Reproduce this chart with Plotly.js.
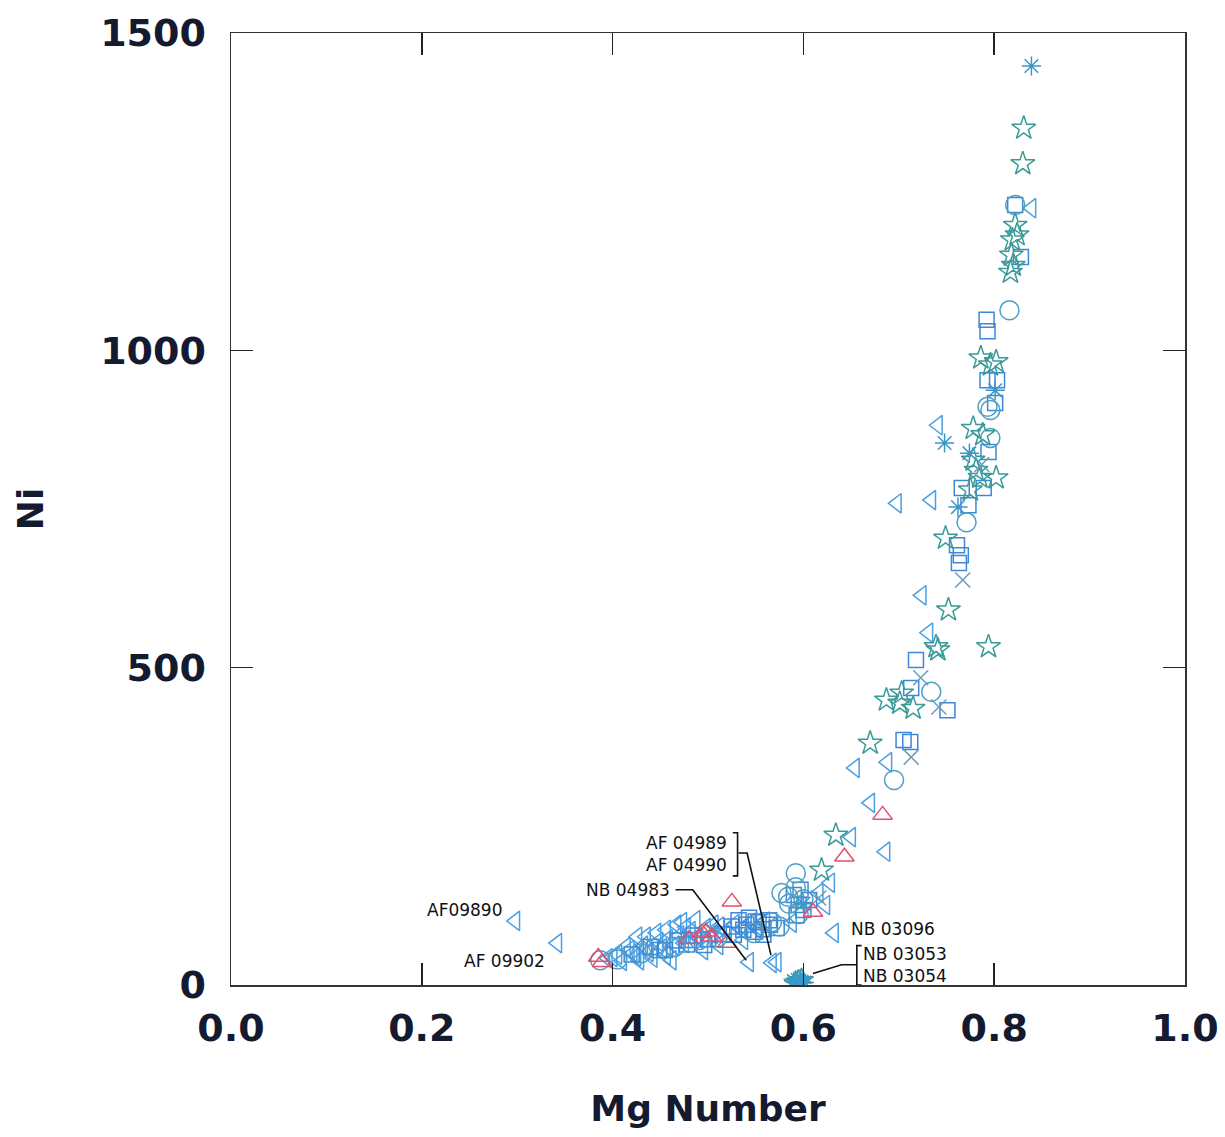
<!DOCTYPE html>
<html>
<head>
<meta charset="utf-8">
<script src="https://cdn.plot.ly/plotly-3.0.1.min.js"></script>
<style>html,body{margin:0;padding:0;background:#fff;}#chart{width:1225px;height:1137px;}</style>
</head>
<body>
<div id="chart"></div>
<script>
// ---- data (Mg Number, Ni) ----
const triX = [0.839,0.741,0.698,0.734,0.724,0.731,0.654,0.688,0.670,0.650,0.686,0.628,0.616,0.623,0.588,0.632,0.543,0.567,0.572,0.298,0.342,
  0.400,0.414,0.435,0.446,0.456,0.467,0.473,0.477,0.442,0.421,0.456,0.462,0.487,0.428,0.495,0.511,0.537,0.553,0.506,0.426,
  0.395,0.405,0.410,0.418,0.425,0.432,0.438,0.448,0.452,0.458,0.465,0.470,0.475,0.482,0.490,0.498,0.505,0.512,0.520,0.528,0.535,0.545,0.552,0.560];
const triY = [1224,882,759,764,614,555,342,351,287,233,210,161,145,126,98,82,36,35,36,101,66,
  44,60,76,82,87,95,99,91,43,50,47,39,102,39,55,63,71,87,95,76,
  42,48,38,55,45,62,52,68,58,72,62,78,66,85,74,90,80,92,85,96,88,98,92,100];

const sqX = [0.822,0.828,0.792,0.793,0.793,0.803,0.801,0.794,0.766,0.789,0.773,0.761,0.765,0.763,0.718,0.713,0.751,0.705,0.712,
  0.590,0.595,0.600,0.593,0.606,0.597,0.532,0.543,0.553,0.564,0.537,0.548,0.558,0.527,0.480,0.496,0.449,
  0.420,0.440,0.455,0.468,0.478,0.485,0.500,0.515,0.525,0.540,0.550,0.558,0.565,0.572];
const sqY = [1229,1147,1048,1030,953,953,917,840,783,783,756,693,677,665,512,468,433,386,383,
  142,126,118,110,134,150,102,106,99,102,87,84,79,79,71,63,55,
  48,60,55,70,64,78,72,80,92,95,100,88,95,90];

const cirX = [0.822,0.816,0.793,0.796,0.796,0.771,0.734,0.695,0.592,0.577,0.584,0.592,0.567,0.387,0.444,0.491,
  0.405,0.430,0.465,0.510,0.548,0.575,0.585,0.600,0.595];
const cirY = [1229,1063,911,906,862,729,462,323,176,145,139,154,99,39,58,71,
  40,50,60,75,82,92,128,135,112];

const starX = [0.831,0.830,0.822,0.819,0.824,0.818,0.820,0.817,0.786,0.802,0.796,0.778,0.788,0.778,0.781,0.785,0.802,0.775,
  0.749,0.752,0.739,0.741,0.794,0.687,0.701,0.715,0.703,0.670,0.634,0.619,0.595,0.592,0.598];
const starY = [1350,1294,1197,1174,1182,1150,1134,1123,988,982,977,877,867,827,811,800,799,780,
  704,591,533,528,533,449,444,436,460,381,236,181,5,3,7];

const crossX = [0.767,0.723,0.742,0.713,0.616,0.787];
const crossY = [638,484,438,359,137,820];

const astX = [0.839,0.801,0.748,0.774,0.762,0.600,0.592,0.596,0.599,0.594,0.598,0.590,0.601];
const astY = [1448,937,854,838,753,128,4,6,3,8,5,6,4];

const redX = [0.683,0.643,0.610,0.525,0.498,0.504,0.520,0.385,0.389,0.494,0.480];
const redY = [268,202,115,131,84,76,66,44,36,82,72];

// sample labels
const labelText = ["AF09890","AF 09902","NB 04983","AF 04989<br>AF 04990","NB 03096","NB 03053<br>NB 03054"];
const labelX = [0.245,0.287,0.416,0.477,0.694,0.706];
const labelY = [118,38,150,207,89,31];

// leader lines / brackets (data units)
const leaderPaths = [
  [[0.466,150],[0.484,150],[0.540,39]],
  [[0.532,208],[0.541,208],[0.566,47]],
  [[0.656,32],[0.640,32],[0.610,18]],
  [[0.526,240],[0.531,240],[0.531,172],[0.526,172]],
  [[0.661,62],[0.656,62],[0.656,0],[0.661,0]]
];

const xTicks = [0,0.2,0.4,0.6,0.8,1.0];
const yTicks = [0,500,1000,1500];

function series(x, y, symbol, color, size) {
  return {x: x, y: y, type: 'scatter', mode: 'markers', showlegend: false, hoverinfo: 'skip',
    marker: {symbol: symbol, size: size, color: color, line: {color: color, width: 1.5}}};
}

const data = [
  series(triX, triY, 'triangle-left-open', '#4b9fe2', 17),
  series(sqX, sqY, 'square-open', '#3f88d8', 15),
  series(cirX, cirY, 'circle-open', '#4e9fc4', 19),
  series(starX, starY, 'star-open', '#399a98', 18),
  series(crossX, crossY, 'x-thin-open', '#6c9cbc', 15),
  series(astX, astY, 'asterisk-open', '#3a98c8', 16),
  series(redX, redY, 'triangle-up-open', '#e2506c', 17)
];

const shapes = leaderPaths.map(p => ({
  type: 'path', xref: 'x', yref: 'y',
  path: p.map((pt, i) => (i === 0 ? 'M' : 'L') + pt[0] + ',' + pt[1]).join(' '),
  line: {color: '#111', width: 1.6}
}));

const annotations = labelText.map((t, i) => ({
  x: labelX[i], y: labelY[i], xref: 'x', yref: 'y', text: t, showarrow: false,
  font: {family: 'DejaVu Sans', size: 17, color: '#111'}, xanchor: 'center', yanchor: 'middle', align: 'left'
}));

const tickFont = {family: 'DejaVu Sans', size: 38, color: '#141a30', weight: 'bold'};
const titleFont = {family: 'DejaVu Sans', size: 36, color: '#141a30', weight: 'bold'};

const layout = {
  width: 1225, height: 1137,
  margin: {l: 231, r: 40, t: 33, b: 152},
  paper_bgcolor: '#fff', plot_bgcolor: '#fff',
  xaxis: {
    range: [0, 1], tickvals: xTicks, ticktext: xTicks.map(v => v.toFixed(1)),
    ticks: 'inside', ticklen: 22, tickwidth: 1.5, tickcolor: '#222',
    showline: true, linecolor: '#333', linewidth: 1.5, mirror: 'ticks',
    showgrid: false, zeroline: false, tickfont: tickFont, ticklabelstandoff: 9,
    ticklabeloverflow: 'allow',
    title: {text: 'Mg Number', font: titleFont, standoff: 46}
  },
  yaxis: {
    range: [0, 1500], tickvals: yTicks,
    ticks: 'inside', ticklen: 22, tickwidth: 1.5, tickcolor: '#222',
    showline: true, linecolor: '#333', linewidth: 1.5, mirror: 'ticks',
    showgrid: false, zeroline: false, tickfont: tickFont, ticklabelstandoff: 16,
    ticklabeloverflow: 'allow',
    title: {text: 'Ni', font: titleFont, standoff: 45}
  },
  shapes: shapes,
  annotations: annotations
};

Plotly.newPlot('chart', data, layout, {displayModeBar: false, staticPlot: true});
</script>
</body>
</html>
